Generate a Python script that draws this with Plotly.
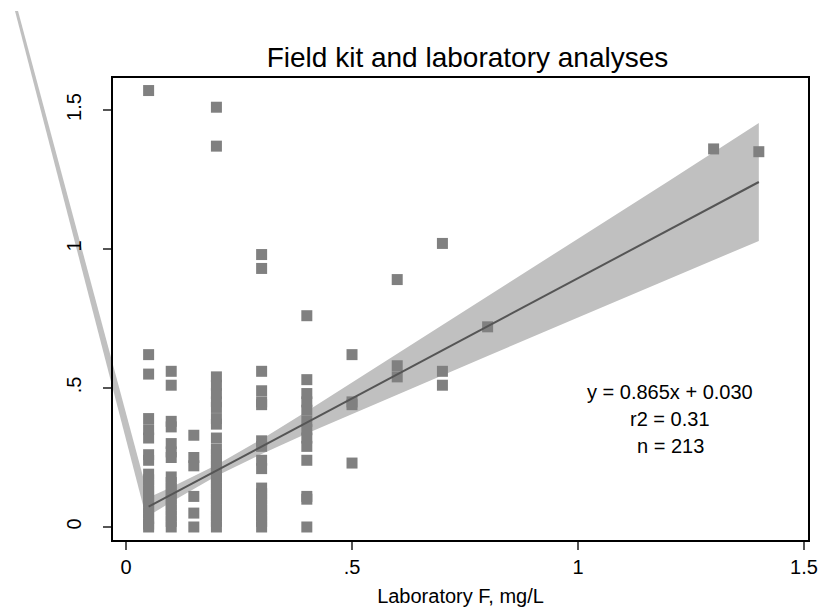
import plotly.graph_objects as go

# ---------------- data ----------------
col_x = [0.05, 0.10, 0.15, 0.20, 0.30, 0.40, 0.50, 0.60, 0.70, 0.80, 1.30, 1.40]
col_y = [
    [1.57, 0.62, 0.55, 0.39, 0.35, 0.32, 0.26, 0.24, 0.19, 0.17, 0.15, 0.13, 0.11, 0.09, 0.07, 0.05, 0.03, 0.01, 0.0],
    [0.56, 0.51, 0.38, 0.36, 0.30, 0.27, 0.25, 0.18, 0.16, 0.14, 0.12, 0.10, 0.08, 0.06, 0.04, 0.02, 0.0],
    [0.33, 0.25, 0.22, 0.11, 0.05, 0.0],
    [1.51, 1.37, 0.54, 0.51, 0.48, 0.45, 0.43, 0.39, 0.37, 0.32, 0.28, 0.26, 0.24, 0.22, 0.20, 0.18, 0.16, 0.14,
     0.12, 0.10, 0.08, 0.06, 0.04, 0.02, 0.0],
    [0.98, 0.93, 0.56, 0.49, 0.45, 0.44, 0.31, 0.29, 0.24, 0.21, 0.14, 0.12, 0.10, 0.08, 0.06, 0.04, 0.02, 0.0],
    [0.76, 0.53, 0.48, 0.45, 0.42, 0.38, 0.35, 0.32, 0.29, 0.24, 0.11, 0.10, 0.0],
    [0.62, 0.45, 0.44, 0.23],
    [0.89, 0.58, 0.54],
    [1.02, 0.56, 0.51],
    [0.72],
    [1.36],
    [1.35],
]

# fitted line and its confidence band
fit_x = [0.05, 1.40]
fit_y = [0.073, 1.241]
band_x = [0.05, 0.10, 0.20, 0.30, 0.40, 0.60, 0.80, 1.00, 1.20, 1.40]
band_hi = [0.106, 0.143, 0.223, 0.316, 0.416, 0.622, 0.829, 1.037, 1.244, 1.453]
band_lo = [0.040, 0.090, 0.183, 0.263, 0.336, 0.476, 0.615, 0.754, 0.892, 1.029]

# stray band polygon running off the plot region (as in the original)
stray_x = [-0.2456, 0.038, 0.05, 0.05, -0.2389]
stray_y = [1.856, 0.076, 0.040, 0.106, 1.856]

x_ticks = [0, 0.5, 1, 1.5]
x_ticktext = ["0", ".5", "1", "1.5"]
y_ticks = [0, 0.5, 1, 1.5]
y_ticktext = ["0", ".5", "1", "1.5"]

stats_lines = ["y = 0.865x + 0.030", "r2 = 0.31", "n = 213"]
stats_x = 1.2035
stats_y = [0.4856, 0.3885, 0.2914]

title = "Field kit and laboratory analyses"
x_title = "Laboratory F, mg/L"

# ---------------- layout geometry ----------------
W, H = 823, 608
PL, PR, PT, PB = 113, 808, 78, 540
x_range = [-0.0288, 1.5088]
y_range = [-0.0468, 1.6151]
ppx = (PR - PL) / (x_range[1] - x_range[0])
ppy = (PB - PT) / (y_range[1] - y_range[0])
full_x = [x_range[0] - PL / ppx, x_range[0] + (W - PL) / ppx]
full_y = [y_range[0] - (H - PB) / ppy, y_range[1] + PT / ppy]

FONT = "Liberation Sans, Arial, sans-serif"
pts_x = [cx for cx, ys in zip(col_x, col_y) for _ in ys]
pts_y = [y for ys in col_y for y in ys]

fig = go.Figure()
# full-canvas (unclipped) layer for the stray polygon
fig.add_trace(go.Scatter(x=stray_x, y=stray_y, fill="toself", fillcolor="#c0c0c0",
                         mode="lines", line=dict(width=0, color="#c0c0c0"),
                         xaxis="x", yaxis="y", hoverinfo="skip", showlegend=False))
fig.add_trace(go.Scatter(x=band_x + band_x[::-1], y=band_hi + band_lo[::-1], fill="toself",
                         fillcolor="#c0c0c0", mode="lines", line=dict(width=0, color="#c0c0c0"),
                         xaxis="x2", yaxis="y2", showlegend=False))
fig.add_trace(go.Scatter(x=pts_x, y=pts_y, mode="markers",
                         marker=dict(symbol="square", size=11, color="#808080", line=dict(width=0)),
                         xaxis="x2", yaxis="y2", showlegend=False))
fig.add_trace(go.Scatter(x=fit_x, y=fit_y, mode="lines", line=dict(color="#555555", width=2),
                         xaxis="x2", yaxis="y2", showlegend=False))

for txt, yy in zip(stats_lines, stats_y):
    fig.add_annotation(x=stats_x, y=yy, xref="x2", yref="y2", text=txt, showarrow=False,
                       font=dict(family=FONT, size=20, color="black"), xanchor="center", yanchor="middle")

axis_common = dict(showgrid=False, zeroline=False, showline=True, linecolor="black", linewidth=1.5,
                   mirror=True, ticks="outside", ticklen=8, tickwidth=1.5, tickcolor="#555555",
                   automargin=False,
                   tickfont=dict(family=FONT, size=20, color="black"))

fig.update_layout(
    width=W, height=H, autosize=False,
    margin=dict(l=0, r=0, t=0, b=0, pad=0, autoexpand=False),
    paper_bgcolor="white", plot_bgcolor="rgba(0,0,0,0)",
    showlegend=False,
    title=dict(text=title, font=dict(family=FONT, size=28, color="black"), automargin=False,
               x=467.5 / W, xanchor="center", y=1 - 57 / H, yanchor="middle"),
    xaxis=dict(domain=[0, 1], range=full_x, visible=False, fixedrange=True, automargin=False),
    yaxis=dict(domain=[0, 1], range=full_y, visible=False, fixedrange=True, automargin=False),
    xaxis2=dict(domain=[PL / W, PR / W], range=x_range, anchor="y2",
                tickvals=x_ticks, ticktext=x_ticktext,
                title=dict(text=x_title, font=dict(family=FONT, size=20, color="black"), standoff=12),
                **axis_common),
    yaxis2=dict(domain=[(H - PB) / H, (H - PT) / H], range=y_range, anchor="x2",
                tickvals=y_ticks, ticktext=y_ticktext, tickangle=-90, ticklabelstandoff=14,
                **axis_common),
)

fig.write_html("out.html")
